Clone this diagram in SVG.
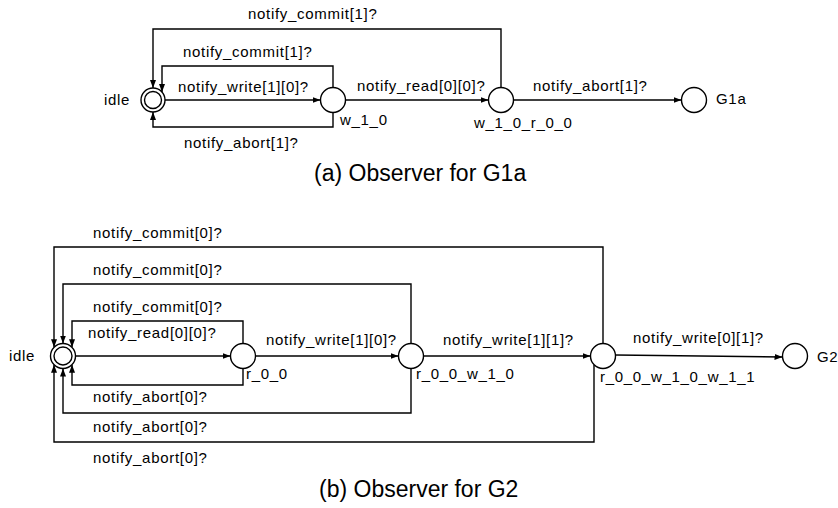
<svg xmlns="http://www.w3.org/2000/svg" width="838" height="508" viewBox="0 0 838 508">
<defs>
<style>
.lbl{font-family:"Liberation Sans",Arial,sans-serif;font-size:15px;letter-spacing:0.7px;fill:#000}
.cap{font-family:"Liberation Sans",Arial,sans-serif;font-size:23px;fill:#000}
.st{fill:#fff;stroke:#000;stroke-width:1.4}
.edge{fill:none;stroke:#000;stroke-width:1.4;marker-end:url(#ah)}
</style>
<marker id="ah" markerUnits="userSpaceOnUse" markerWidth="9" markerHeight="7" refX="8" refY="3" orient="auto">
<path d="M0,0 L8,3 L0,6 z" fill="#000"/>
</marker>
</defs>
<rect width="838" height="508" fill="#fff"/>

<g id="connectors">
<!-- top -->
<path class="edge" d="M165,100 H320.5"/>
<path class="edge" d="M333,87.5 V66 H162 V92"/>
<path class="edge" d="M333,112.5 V127 H153 V112"/>
<path class="edge" d="M345.5,100 H488.5"/>
<path class="edge" d="M501,87.5 V29 H153 V88"/>
<path class="edge" d="M513.5,100 H681.5"/>
<!-- bottom -->
<path class="edge" d="M75.5,356 H230.5"/>
<path class="edge" d="M243,343.5 V321 H72 V347.3"/>
<path class="edge" d="M243,368.5 V385 H72 V364.7"/>
<path class="edge" d="M255.5,356 H398.5"/>
<path class="edge" d="M411,343.5 V284 H63 V343.5"/>
<path class="edge" d="M411,368.5 V413 H63 V368.5"/>
<path class="edge" d="M423.5,356 H590.5"/>
<path class="edge" d="M603,343.5 V247 H54 V347.3"/>
<path class="edge" d="M594,364.7 V442 H54 V364.7"/>
<path class="edge" d="M615.5,355 L782.5,357"/>
</g>

<g id="edge-labels">
<text class="lbl" x="248" y="19">notify_commit[1]?</text>
<text class="lbl" x="183" y="57">notify_commit[1]?</text>
<text class="lbl" x="178" y="92">notify_write[1][0]?</text>
<text class="lbl" x="184" y="148">notify_abort[1]?</text>
<text class="lbl" x="357" y="91">notify_read[0][0]?</text>
<text class="lbl" x="533" y="91">notify_abort[1]?</text>

<text class="lbl" x="93" y="238">notify_commit[0]?</text>
<text class="lbl" x="93" y="275">notify_commit[0]?</text>
<text class="lbl" x="93" y="312">notify_commit[0]?</text>
<text class="lbl" x="88" y="338">notify_read[0][0]?</text>
<text class="lbl" x="93" y="402">notify_abort[0]?</text>
<text class="lbl" x="93" y="432">notify_abort[0]?</text>
<text class="lbl" x="93" y="463">notify_abort[0]?</text>
<text class="lbl" x="266" y="345">notify_write[1][0]?</text>
<text class="lbl" x="443" y="345">notify_write[1][1]?</text>
<text class="lbl" x="633" y="343">notify_write[0][1]?</text>
</g>

<g id="idle_a">
<circle class="st" cx="153" cy="100" r="12"/>
<circle class="st" cx="153" cy="100" r="8.5"/>
<text class="lbl" x="104" y="105">idle</text>
</g>
<g id="w_1_0">
<circle class="st" cx="333" cy="100" r="12.5"/>
<text class="lbl" x="340" y="125">w_1_0</text>
</g>
<g id="w_1_0_r_0_0">
<circle class="st" cx="501" cy="100" r="12.5"/>
<text class="lbl" x="474" y="128">w_1_0_r_0_0</text>
</g>
<g id="G1a">
<circle class="st" cx="694" cy="100" r="12.5"/>
<text class="lbl" x="716" y="104">G1a</text>
</g>

<g id="idle_b">
<circle class="st" cx="63" cy="356" r="12.5"/>
<circle class="st" cx="63" cy="356" r="9"/>
<text class="lbl" x="9" y="361">idle</text>
</g>
<g id="r_0_0">
<circle class="st" cx="243" cy="356" r="12.5"/>
<text class="lbl" x="246" y="379">r_0_0</text>
</g>
<g id="r_0_0_w_1_0">
<circle class="st" cx="411" cy="356" r="12.5"/>
<text class="lbl" x="416" y="379">r_0_0_w_1_0</text>
</g>
<g id="r_0_0_w_1_0_w_1_1">
<circle class="st" cx="603" cy="356" r="12.5"/>
<text class="lbl" x="600" y="382">r_0_0_w_1_0_w_1_1</text>
</g>
<g id="G2">
<circle class="st" cx="795" cy="356" r="12.5"/>
<text class="lbl" x="817" y="362">G2</text>
</g>

<g id="captions">
<text class="cap" x="314" y="181">(a) Observer for G1a</text>
<text class="cap" x="319" y="497">(b) Observer for G2</text>
</g>
</svg>
